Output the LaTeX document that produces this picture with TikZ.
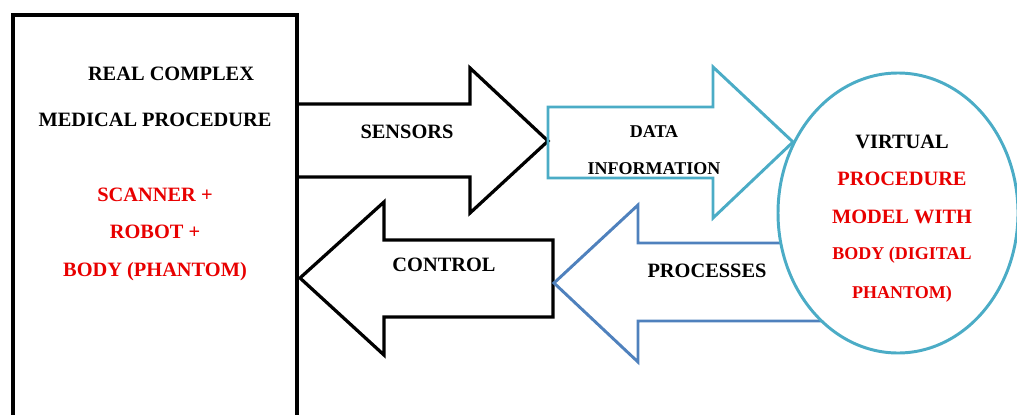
\documentclass[tikz,border=0pt]{standalone}
\usepackage{fontspec}
\setmainfont{Liberation Serif}
\definecolor{datacyan}{RGB}{75,172,198}
\definecolor{procblue}{RGB}{79,129,189}
\definecolor{labelred}{RGB}{232,0,0}

\begin{document}
\begin{tikzpicture}[x=0.025cm, y=-0.025cm,
  lbl/.style={font=\bfseries\fontsize{14.5}{17}\selectfont, anchor=base, inner sep=0pt},
  lblsmall/.style={lbl, font=\bfseries\fontsize{12.8}{15}\selectfont},
  blk/.style={line width=2.3pt, line join=miter}]
  \useasboundingbox (0,0) rectangle (1017,414);
  \clip (0,0) rectangle (1017,414);
  % sensors: forward arrow out of the real procedure
  \draw[blk] (297,104) -- (470,104) -- (470,68) -- (548,141) -- (470,213) -- (470,177) -- (297,177);
  \node[lbl] (sensors) at (407,138) {SENSORS};
  % control: back into the real procedure
  \draw[blk] (553,240) -- (384,240) -- (384,202) -- (300,278) -- (384,355) -- (384,317) -- (553,317) -- cycle;
  \node[lbl] (control) at (444,271) {CONTROL};
  % data information towards the model
  \draw[blk, datacyan, line width=2.1pt] (548,107) -- (713,107) -- (713,67) -- (793,142) -- (713,218) -- (713,178) -- (548,178) -- cycle;
  \node[lblsmall] (data) at (654,137) {DATA};
  \node[lblsmall] (info) at (654,174) {INFORMATION};
  % processes: shaft runs under the ellipse
  \draw[blk, procblue, line width=2.1pt] (840,243) -- (638,243) -- (638,205) -- (554,283) -- (638,362) -- (638,321) -- (840,321);
  \node[lbl] (processes) at (707,277) {PROCESSES};
  % real procedure box, runs off the bottom
  \draw[line width=2.8pt] (13,15) rectangle (297,440);
  \node[lbl] (real) at (171,80) {REAL COMPLEX};
  \node[lbl] (medical) at (155,126) {MEDICAL PROCEDURE};
  \node[lbl, labelred] (scanner) at (155,201) {SCANNER +};
  \node[lbl, labelred] (robot) at (155,238) {ROBOT +};
  \node[lbl, labelred] (body) at (155,276) {BODY (PHANTOM)};
  % virtual model
  \draw[datacyan, line width=2.1pt, fill=white] (898,213) ellipse [x radius=120, y radius=140];
  \node[lbl] (virtual) at (902,148) {VIRTUAL};
  \node[lbl, labelred] (procedure) at (902,185) {PROCEDURE};
  \node[lbl, labelred] (model) at (902,223) {MODEL WITH};
  \node[lblsmall, labelred] (digital) at (902,259) {BODY (DIGITAL};
  \node[lblsmall, labelred] (phantom) at (902,298) {PHANTOM)};
\end{tikzpicture}
\end{document}
